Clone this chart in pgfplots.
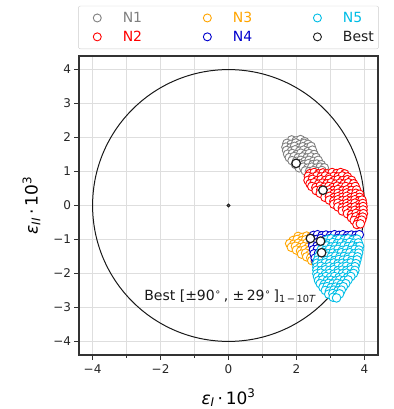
\documentclass[border=0pt]{standalone}
\usepackage{fontspec}
\setmainfont{DejaVu Sans}
\usepackage{pgfplots}
\pgfplotsset{compat=1.18}
\definecolor{cgray}{RGB}{128,128,128}
\definecolor{cred}{RGB}{255,0,0}
\definecolor{corange}{RGB}{255,165,0}
\definecolor{cblue}{RGB}{0,0,205}
\definecolor{ccyan}{RGB}{0,190,230}
\definecolor{cblack}{RGB}{30,30,30}
\pgfplotsset{
  legmark/.style={only marks, mark=*, mark size=4pt, mark options={draw=#1, fill=white, line width=0.9pt},
    legend image code/.code={\draw[##1] plot coordinates {(0cm,0cm)}; \path (-16pt,0pt) (23.3pt,0pt);}},
}
\begin{document}
\begin{tikzpicture}
\begin{axis}[
  name=ax,
  scale only axis, width=299pt, height=299pt,
  xmin=-4.4, xmax=4.4, ymin=-4.4, ymax=4.4,
  xtick={-4,-2,0,2,4}, xticklabels={−4,−2,0,2,4},
  minor xtick={-3,-1,1,3},
  ytick={-4,-3,-2,-1,0,1,2,3,4}, yticklabels={−4,−3,−2,−1,0,1,2,3,4},
  grid=both,
  major grid style={black!13, line width=0.7pt},
  minor grid style={black!13, line width=0.7pt},
  tick align=outside, tick pos=left,
  major tick length=4.5pt, minor tick length=2.5pt,
  tick style={black!80, line width=0.8pt},
  axis line style={black!80, line width=1.1pt},
  ticklabel style={font=\fontsize{12}{14}\selectfont, text=black!85},
  xticklabel style={yshift=-2pt},
  label style={font=\fontsize{17}{20}\selectfont},
  xlabel={\textit{ε}\textsubscript{\textit{I}}\,·\,10\textsuperscript{3}},
  ylabel={\textit{ε}\textsubscript{\textit{II}}\,·\,10\textsuperscript{3}},
  xlabel style={yshift=-8pt},
  ylabel style={yshift=6pt},
  legend columns=3,
  legend cell align=left,
  legend style={at={(0.5,1)}, anchor=south, yshift=7pt,
    draw=black!20, rounded corners=2pt, fill=white,
    font=\fontsize{14}{16}\selectfont,
    inner xsep=2.7pt, inner ysep=4pt,
    row sep=3pt,
    /tikz/every even column/.append style={column sep=47pt}},
]
\draw[black!90, line width=1pt] (axis cs:0,0) circle[radius=4];
% N1
\addplot[only marks, mark=*, mark size=4.3pt, mark options={draw=cgray, fill=white, line width=0.9pt}, forget plot] coordinates {
(1.86,1.93) (1.99,1.9) (2.12,1.94) (2.24,1.88)
(1.72,1.83) (1.84,1.8) (1.98,1.84) (2.09,1.79) (2.23,1.83) (2.34,1.8)
(1.69,1.72) (1.83,1.7) (1.94,1.74) (2.08,1.69) (2.19,1.73) (2.33,1.7) (2.43,1.74)
(1.71,1.62) (1.85,1.6) (1.96,1.64) (2.09,1.6) (2.21,1.63) (2.34,1.59) (2.47,1.63)
(1.74,1.51) (1.88,1.53) (2.01,1.5) (2.13,1.54) (2.26,1.5) (2.38,1.53) (2.52,1.5)
(1.79,1.41) (1.93,1.44) (2.05,1.4) (2.18,1.43) (2.31,1.4) (2.43,1.43) (2.58,1.41)
(1.87,1.32) (2.0,1.3) (2.13,1.33) (2.25,1.3) (2.37,1.33) (2.5,1.3) (2.64,1.33)
(1.97,1.21) (2.1,1.23) (2.22,1.2) (2.35,1.23) (2.48,1.2) (2.6,1.22) (2.73,1.2)
(2.08,1.11) (2.2,1.13) (2.33,1.1) (2.45,1.13) (2.58,1.1) (2.7,1.13) (2.82,1.11)
(2.26,1.02) (2.38,1.0) (2.5,1.03) (2.62,1.0) (2.75,1.03)
};
% N2
\addplot[only marks, mark=*, mark size=4.3pt, mark options={draw=cred, fill=white, line width=0.9pt}, forget plot] coordinates {
(2.4,0.94) (2.52,0.97) (2.65,0.93) (2.78,0.96) (2.9,0.93) (3.05,0.97) (3.18,0.94) (3.3,0.97) (3.42,0.93)
(2.35,0.86) (2.47,0.83) (2.6,0.87) (2.72,0.84) (2.85,0.87) (2.97,0.83) (3.1,0.86) (3.22,0.84) (3.35,0.87) (3.5,0.84)
(2.34,0.74) (2.47,0.77) (2.6,0.73) (2.72,0.76) (2.85,0.74) (2.97,0.77) (3.1,0.73) (3.22,0.76) (3.35,0.73) (3.5,0.76) (3.62,0.74)
(2.4,0.64) (2.52,0.67) (2.65,0.63) (2.77,0.66) (2.9,0.64) (3.02,0.67) (3.15,0.63) (3.28,0.66) (3.4,0.63) (3.53,0.67) (3.68,0.64)
(2.45,0.56) (2.57,0.53) (2.7,0.57) (2.82,0.54) (2.95,0.56) (3.07,0.53) (3.2,0.57) (3.32,0.54) (3.45,0.56) (3.6,0.53) (3.73,0.56)
(2.58,0.44) (2.72,0.47) (2.85,0.43) (2.97,0.46) (3.1,0.44) (3.22,0.47) (3.35,0.43) (3.48,0.46) (3.62,0.44) (3.77,0.46)
(2.7,0.36) (2.85,0.33) (2.97,0.37) (3.1,0.34) (3.22,0.36) (3.35,0.33) (3.48,0.37) (3.6,0.34) (3.75,0.36) (3.86,0.33)
(2.84,0.24) (2.97,0.27) (3.1,0.23) (3.22,0.26) (3.35,0.24) (3.48,0.27) (3.6,0.23) (3.72,0.26) (3.86,0.24)
(2.97,0.16) (3.1,0.13) (3.22,0.17) (3.35,0.14) (3.48,0.16) (3.6,0.13) (3.72,0.17) (3.85,0.14) (3.93,0.16)
(3.1,0.04) (3.22,0.07) (3.35,0.03) (3.48,0.06) (3.6,0.04) (3.72,0.07) (3.85,0.03) (3.95,0.06)
(3.22,-0.04) (3.35,-0.07) (3.48,-0.03) (3.6,-0.06) (3.72,-0.04) (3.85,-0.07) (3.96,-0.03)
(3.35,-0.16) (3.48,-0.13) (3.6,-0.17) (3.72,-0.14) (3.85,-0.16) (3.96,-0.13)
(3.5,-0.24) (3.62,-0.27) (3.75,-0.23) (3.88,-0.26) (3.97,-0.24)
(3.62,-0.36) (3.75,-0.33) (3.87,-0.37) (3.95,-0.34)
(3.7,-0.44) (3.82,-0.47) (3.92,-0.43)
(3.78,-0.56) (3.88,-0.54)
};
% N3
\addplot[only marks, mark=*, mark size=4.3pt, mark options={draw=corange, fill=white, line width=0.9pt}, forget plot] coordinates {
(2.05,-0.91) (2.17,-0.94) (2.3,-0.9) (2.42,-0.93) (2.55,-0.91)
(1.9,-1.03) (2.02,-1.0) (2.15,-1.04) (2.27,-1.01) (2.4,-1.03) (2.52,-1.0)
(1.8,-1.12) (1.92,-1.14) (2.05,-1.11) (2.17,-1.14) (2.3,-1.11) (2.42,-1.13) (2.55,-1.1)
(1.85,-1.23) (1.97,-1.2) (2.1,-1.24) (2.22,-1.21) (2.35,-1.23) (2.47,-1.2)
(2.0,-1.31) (2.12,-1.34) (2.25,-1.3) (2.37,-1.33) (2.5,-1.31)
(2.15,-1.43) (2.27,-1.4) (2.4,-1.44) (2.52,-1.41)
(2.3,-1.51) (2.42,-1.54) (2.55,-1.51)
(2.45,-1.62) (2.55,-1.64)
};
% N4
\addplot[only marks, mark=*, mark size=4.3pt, mark options={draw=cblue, fill=white, line width=0.9pt}, forget plot] coordinates {
(2.5,-0.88) (2.62,-0.86) (2.75,-0.89) (2.87,-0.87) (3.0,-0.89) (3.12,-0.86) (3.25,-0.88) (3.37,-0.86) (3.5,-0.89) (3.62,-0.87) (3.75,-0.88) (3.85,-0.86)
(2.47,-0.98) (2.6,-1.0) (2.72,-0.97) (2.85,-1.0) (2.97,-0.98) (3.1,-1.0) (3.22,-0.97) (3.35,-0.99) (3.47,-0.97) (3.6,-1.0) (3.72,-0.98)
(2.47,-1.08) (2.6,-1.1) (2.72,-1.07) (2.85,-1.1) (2.97,-1.08) (3.1,-1.1) (3.22,-1.07) (3.35,-1.09) (3.47,-1.07)
(2.48,-1.18) (2.6,-1.2) (2.72,-1.17) (2.85,-1.2) (2.97,-1.18) (3.1,-1.2) (3.22,-1.17)
(2.5,-1.3) (2.62,-1.28) (2.75,-1.31) (2.87,-1.29) (3.0,-1.31)
(2.52,-1.42) (2.65,-1.4) (2.77,-1.43)
(2.55,-1.55) (2.67,-1.53)
(2.58,-1.67)
};
% N5
\addplot[only marks, mark=*, mark size=4.3pt, mark options={draw=ccyan, fill=white, line width=0.9pt}, forget plot] coordinates {
(2.9,-1.01) (3.02,-0.98) (3.15,-1.02) (3.27,-0.99) (3.4,-1.01) (3.52,-0.98) (3.65,-1.02) (3.78,-0.99)
(2.82,-1.1) (2.95,-1.12) (3.07,-1.09) (3.2,-1.12) (3.32,-1.1) (3.45,-1.12) (3.57,-1.09) (3.7,-1.11) (3.82,-1.1)
(2.78,-1.21) (2.9,-1.19) (3.02,-1.22) (3.15,-1.2) (3.27,-1.22) (3.4,-1.19) (3.52,-1.21) (3.65,-1.19) (3.77,-1.22) (3.86,-1.2)
(2.73,-1.3) (2.85,-1.32) (2.97,-1.29) (3.1,-1.31) (3.22,-1.29) (3.35,-1.32) (3.47,-1.3) (3.6,-1.32) (3.72,-1.29) (3.84,-1.31)
(2.7,-1.41) (2.82,-1.39) (2.94,-1.42) (3.07,-1.4) (3.2,-1.42) (3.32,-1.39) (3.45,-1.41) (3.57,-1.39) (3.7,-1.42) (3.83,-1.4)
(2.65,-1.5) (2.77,-1.52) (2.9,-1.49) (3.02,-1.51) (3.15,-1.49) (3.27,-1.52) (3.4,-1.5) (3.52,-1.52) (3.65,-1.49) (3.8,-1.51)
(2.62,-1.61) (2.75,-1.59) (2.87,-1.62) (3.0,-1.6) (3.12,-1.62) (3.25,-1.59) (3.37,-1.61) (3.5,-1.59) (3.62,-1.62) (3.78,-1.6)
(2.6,-1.7) (2.72,-1.72) (2.85,-1.69) (2.97,-1.71) (3.1,-1.69) (3.22,-1.72) (3.35,-1.7) (3.47,-1.72) (3.6,-1.69) (3.75,-1.71)
(2.6,-1.81) (2.72,-1.79) (2.85,-1.82) (2.97,-1.8) (3.1,-1.82) (3.22,-1.79) (3.35,-1.81) (3.47,-1.79) (3.6,-1.82) (3.72,-1.8)
(2.6,-1.9) (2.72,-1.92) (2.85,-1.89) (2.97,-1.91) (3.1,-1.89) (3.22,-1.92) (3.35,-1.9) (3.47,-1.92) (3.6,-1.89) (3.72,-1.91)
(2.6,-2.01) (2.72,-1.99) (2.85,-2.02) (2.97,-2.0) (3.1,-2.02) (3.22,-1.99) (3.35,-2.01) (3.47,-1.99) (3.6,-2.02) (3.68,-2.0)
(2.62,-2.1) (2.75,-2.12) (2.87,-2.09) (3.0,-2.11) (3.12,-2.09) (3.25,-2.12) (3.37,-2.1) (3.5,-2.12) (3.6,-2.09)
(2.65,-2.21) (2.77,-2.19) (2.9,-2.22) (3.02,-2.2) (3.15,-2.22) (3.27,-2.19) (3.4,-2.21) (3.52,-2.19)
(2.7,-2.3) (2.82,-2.32) (2.95,-2.29) (3.07,-2.31) (3.2,-2.29) (3.32,-2.32) (3.45,-2.3)
(2.78,-2.41) (2.9,-2.39) (3.02,-2.42) (3.15,-2.4) (3.27,-2.42) (3.38,-2.39)
(2.85,-2.5) (2.97,-2.52) (3.1,-2.49) (3.22,-2.51) (3.32,-2.49)
(2.95,-2.61) (3.07,-2.59) (3.18,-2.62) (3.27,-2.6)
(3.08,-2.7) (3.18,-2.72)
};
% Best
\addplot[only marks, mark=*, mark size=4.3pt, mark options={draw=cblack, fill=white, line width=1.2pt}, forget plot] coordinates {
(1.99,1.24) (2.78,0.45) (2.41,-0.97) (2.71,-1.05) (2.74,-1.39)
};
\addplot[only marks, mark=*, mark size=1.6pt, mark options={draw=cblack, fill=black!60, line width=0.9pt}, forget plot] coordinates {(0,0)};
\node[anchor=west, font=\fontsize{14}{16}\selectfont, text=black!90] at (axis cs:-2.58,-2.68)
  {Best [±90\textsuperscript{∘}\,, ±\,29\textsuperscript{∘}\,]\textsubscript{1\,−\,10\textit{T}}};
\addlegendimage{legmark=cgray}
\addlegendentry{\textcolor{cgray}{N1}}
\addlegendimage{legmark=corange}
\addlegendentry{\textcolor{corange}{N3}}
\addlegendimage{legmark=ccyan}
\addlegendentry{\textcolor{ccyan}{N5}}
\addlegendimage{legmark=cred}
\addlegendentry{\textcolor{cred}{N2}}
\addlegendimage{legmark=cblue}
\addlegendentry{\textcolor{cblue}{N4}}
\addlegendimage{legmark=cblack}
\addlegendentry{\textcolor{cblack}{Best}}
\end{axis}
\pgfresetboundingbox
\path ([shift={(-79pt,-54pt)}]ax.south west) rectangle ([shift={(15pt,56pt)}]ax.north east);
\end{tikzpicture}
\end{document}
